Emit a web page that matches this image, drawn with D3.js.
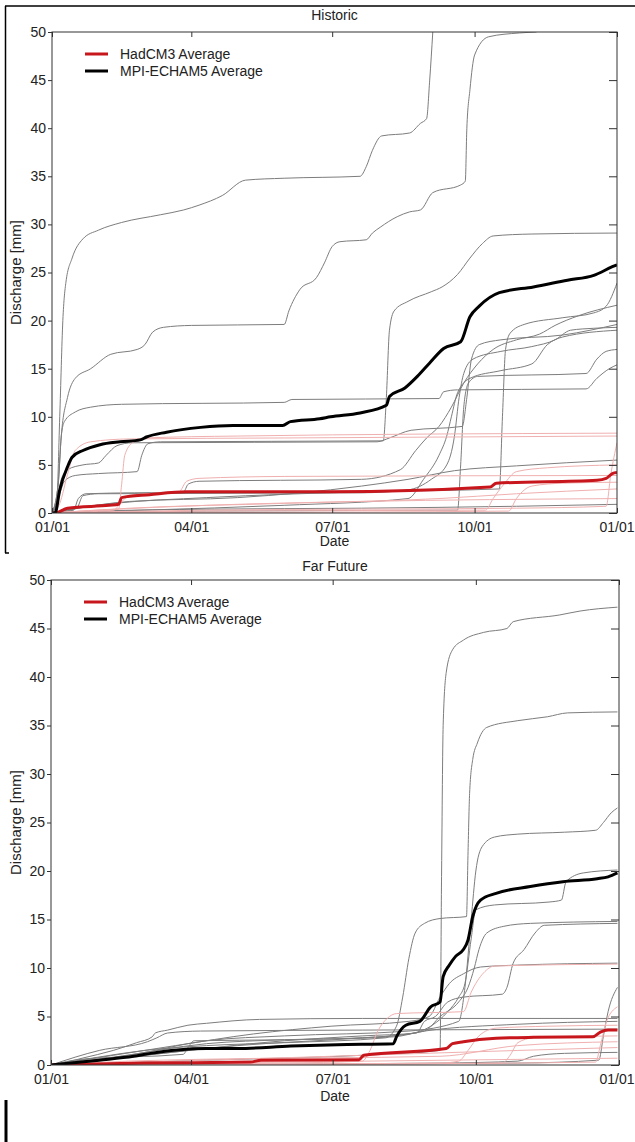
<!DOCTYPE html>
<html>
<head>
<meta charset="utf-8">
<script src="https://cdn.jsdelivr.net/npm/d3@7"></script>
<style>
  body { margin: 0; background: #fff; }
  svg { display: block; }
  text { font-family: "Liberation Sans", Arial, sans-serif; fill: #222; }
</style>
</head>
<body>
<svg id="chart" width="635" height="1142"></svg>
<script>
// ---- data: cumulative discharge [mm] as [day of year, value] ----
const panelTitles = ["Historic", "Far Future"];
const legendLabels = ["HadCM3 Average", "MPI-ECHAM5 Average"];
const yTicks = [0, 5, 10, 15, 20, 25, 30, 35, 40, 45, 50];

// Historic, MPI-ECHAM5 members (grey)
const histMpiMembers = [
  [[0,0],[3,1],[5,10],[7,20],[9,24],[13,26.5],[20,28.5],[30,29.4],[45,30.2],[70,31],[85,31.5],[95,32],[110,33],[125,34.6],[150,34.8],[199,35],[203,36],[207,37.7],[213,39.2],[231,39.5],[238,40.5],[242,41],[244,45],[246,50]],
  [[0,0],[4,3],[6,8],[10,12],[15,14],[25,15],[38,16.5],[55,17],[60,17.5],[65,18.8],[72,19.3],[90,19.5],[150,19.6],[153,21],[160,23.2],[171,24.5],[176,26],[181,27.7],[186,28.2],[203,28.4],[207,29.1],[212,29.7],[223,30.8],[231,31.3],[238,31.5],[246,33.3],[264,34.1],[267,34.5],[268,40],[270,44],[273,47.6],[282,49.5],[302,49.9],[313,50]],
  [[0,0],[5,2],[8,3.3],[15,3.9],[30,4.1],[55,4.3],[58,6],[62,7.2],[70,7.4],[214,7.5],[216,12],[218,19],[221,21],[230,22],[245,23],[252,23.5],[262,24.8],[270,26.5],[278,28],[285,28.8],[310,29],[365,29.1]],
  [[0,0],[4,3],[6,8],[8,9.5],[15,10.5],[25,11],[45,11.3],[150,11.5],[155,11.8],[250,11.9],[253,12.6],[262,12.8],[345,12.9],[352,14],[360,15],[365,15.4]],
  [[0,0],[15,0.5],[40,1],[100,1.6],[200,2.2],[289,2.5],[291,10],[293,17],[296,18.7],[305,19.6],[330,20.3],[350,20.8],[358,21.5],[365,23.9]],
  [[0,0],[100,0.2],[262,0.3],[264,5],[266,11],[269,13.5],[275,14.2],[345,14.5],[352,16],[358,16.8],[365,17]],
  [[0,0],[14,0.3],[17,1.5],[22,2],[85,2.2],[88,3],[95,3.3],[200,3.5],[225,4.5],[235,6.5],[242,7.8],[250,9],[258,11],[266,13.5],[275,15.5],[285,17],[300,18],[315,18.6],[325,19.5],[340,20.5],[365,21.6]],
  [[0,0],[16,0.5],[20,1.8],[30,2],[200,2.1],[230,2.4],[245,3.5],[255,5],[260,8],[263,12],[266,14.5],[272,16],[290,16.8],[310,17.3],[325,18],[335,19],[350,19.2],[365,19.3]],
  [[0,0],[60,0.3],[150,0.8],[230,1.5],[240,3.5],[250,6],[255,8],[258,10],[262,12.5],[270,14],[290,14.8],[310,15.5],[320,17.5],[330,18.3],[365,19]],
  [[0,0],[10,0.3],[50,1.2],[120,1.6],[200,2.8],[230,3.5],[260,4.4],[300,4.9],[365,5.5]],
  [[0,0],[3,1],[6,3.5],[10,4.5],[20,5],[30,5.2],[35,6],[42,7],[52,7.3],[210,7.4],[218,7.8],[232,8.6],[265,9],[268,12],[271,16],[276,17.5],[290,18],[330,18.5],[365,19.6]],
  [[0,0],[30,0.2],[100,0.4],[200,0.5],[300,0.7],[365,0.9]]
];
// Historic, HadCM3 members (pink)
const histHadMembers = [
  [[0,0],[20,0.2],[43,0.4],[45,3],[47,6],[52,7.3],[60,7.8],[120,8],[365,8.3]],
  [[0,0],[5,1],[10,4],[15,6.5],[25,7.4],[50,7.7],[150,7.8],[365,8.0]],
  [[0,0],[100,0.3],[300,0.5],[358,0.7],[361,4],[365,7.3]],
  [[0,0],[40,0.3],[44,1],[50,1.8],[60,2],[82,2.2],[87,3.3],[95,3.6],[150,3.8],[365,3.9]],
  [[0,0],[100,0.2],[280,0.3],[285,1.5],[292,3],[300,4.3],[320,4.7],[365,5.0]],
  [[0,0],[50,0.5],[150,1],[250,1.5],[300,2],[365,2.5]],
  [[0,0],[200,0.1],[295,0.2],[300,1.5],[310,2.8],[330,3.1],[365,3.2]],
  [[0,0],[30,0.3],[100,0.8],[200,1.2],[365,1.5]]
];
const histMpiAvg = [[0,0],[2,0],[5,2.4],[10,4.8],[13,5.8],[20,6.5],[31,7.1],[44,7.4],[57,7.6],[61,7.9],[74,8.4],[96,8.9],[117,9.1],[149,9.1],[154,9.5],[173,9.8],[180,10],[199,10.4],[216,11.2],[218,12.1],[228,13],[236,14.2],[244,15.6],[253,17.1],[264,17.8],[270,20.4],[276,21.5],[289,22.9],[311,23.5],[333,24.2],[350,24.7],[362,25.6],[365,25.8]];
const histHadAvg = [[0,0],[2,0],[10,0.5],[37,0.8],[43,0.9],[45,1.6],[63,1.9],[87,2.2],[180,2.2],[283,2.7],[287,3.1],[352,3.4],[358,3.6],[362,4.1],[365,4.2]];

// Far Future, MPI-ECHAM5 members (grey)
const futMpiMembers = [
  [[0,0],[100,0.5],[200,1],[250,1.5],[251,20],[252,35],[254,40.5],[258,42.8],[265,43.8],[278,44.6],[293,45],[297,45.7],[327,46.4],[340,46.8],[364,47.2]],
  [[0,0],[30,0.8],[60,1.5],[100,2],[150,2.3],[215,2.8],[222,4],[226,7],[230,11],[234,13.6],[240,14.6],[250,15.1],[267,15.3],[268,22],[269,28],[271,31.5],[274,33.2],[280,34.8],[300,35.5],[319,35.9],[332,36.3],[364,36.4]],
  [[0,0],[50,1],[100,2.5],[150,3],[230,3.5],[262,4.5],[266,8],[270,15],[273,20],[277,22.5],[285,23.5],[300,23.8],[330,24],[350,24.2],[355,25],[360,26],[364,26.5]],
  [[0,0],[60,1],[120,2],[200,2.8],[230,3.2],[244,4],[255,5.5],[262,7],[266,8.4],[270,13],[273,16],[285,16.5],[320,16.8],[328,17],[331,18.9],[342,19.8],[364,20.1]],
  [[0,0],[40,0.8],[100,2.2],[150,2.6],[200,2.8],[240,3.5],[250,5],[262,6.5],[268,8],[272,10],[275,11.9],[280,13.6],[291,14.3],[308,14.6],[364,14.8]],
  [[0,0],[60,1],[150,2.5],[200,3],[235,3.3],[240,4.5],[247,5],[255,6.5],[265,7],[290,7.3],[293,8],[297,10.5],[304,11.9],[311,13.6],[317,14.4],[364,14.6]],
  [[0,0],[40,1],[80,2],[130,3.2],[180,4],[230,4.5],[243,5],[250,7],[256,8.4],[265,9.4],[276,10.1],[300,10.3],[364,10.5]],
  [[0,0],[10,0.3],[20,0.7],[40,1.5],[55,2.3],[65,2.9],[67,3.3],[75,3.6],[88,4.1],[100,4.3],[134,4.7],[200,4.8],[364,4.8]],
  [[0,0],[31,1.5],[62,2.4],[68,2.8],[75,3.3],[96,3.5],[200,3.6],[364,3.7]],
  [[0,0],[20,0.6],[85,1.1],[88,1.8],[92,2.5],[150,2.6],[220,2.9],[240,3.5],[300,4.2],[364,4.5]],
  [[0,0],[250,0.2],[300,0.4],[310,0.9],[330,1.2],[364,1.3]],
  [[0,0],[300,0.2],[352,0.5],[355,3],[358,5.5],[364,8]]
];
// Far Future, HadCM3 members (pink)
const futHadMembers = [
  [[0,0],[150,0.2],[200,0.4],[205,1.5],[210,3.5],[216,4.8],[222,5.3],[265,5.5],[270,7.5],[278,9.5],[285,10.2],[364,10.4]],
  [[0,0],[200,0.1],[350,0.3],[353,2],[357,4.5],[364,6]],
  [[0,0],[250,0.2],[262,0.4],[268,1.5],[275,3],[286,3.8],[320,4.0],[364,4.1]],
  [[0,0],[290,0.2],[295,1],[300,2.3],[310,2.8],[364,3.0]],
  [[0,0],[100,0.5],[200,1.0],[300,1.5],[364,1.8]],
  [[0,0],[150,0.3],[364,0.7]],
  [[0,0],[50,0.4],[100,0.6],[250,0.9],[300,2],[364,2.4]]
];
const futMpiAvg = [[0,0],[31,0.5],[53,0.9],[64,1.2],[81,1.55],[100,1.7],[120,1.7],[154,1.95],[184,2.1],[220,2.2],[222,2.9],[228,4.1],[237,4.5],[244,6],[250,6.5],[252,9.1],[256,10.3],[260,11.2],[265,11.9],[268,12.9],[271,15.3],[276,17],[286,17.7],[308,18.4],[329,18.9],[351,19.2],[358,19.4],[364,19.8]];
const futHadAvg = [[0,0],[60,0.2],[128,0.3],[135,0.5],[198,0.55],[201,1],[254,1.7],[258,2.2],[265,2.4],[286,2.75],[310,2.85],[348,2.9],[353,3.4],[358,3.6],[364,3.6]];

// ---- layout ----
const svg = d3.select("#chart");
const start = new Date(2001, 0, 1);
const end = new Date(2002, 0, 1);
const toDate = d => d3.timeDay.offset(start, d);
const fmt = d3.timeFormat("%m/%d");

const colors = { mpi: "#7d7d7d", had: "#f0b0b0", mpiAvg: "#000", hadAvg: "#c8161d", axis: "#333" };
const fs = 14;

const panels = [
  { title: panelTitles[0], left: 52, right: 617, top: 32, bottom: 513, titleY: 20, dateY: 546,
    mpi: histMpiMembers, had: histHadMembers, mpiAvg: histMpiAvg, hadAvg: histHadAvg },
  { title: panelTitles[1], left: 51, right: 619, top: 580, bottom: 1065, titleY: 571, dateY: 1101,
    mpi: futMpiMembers, had: futHadMembers, mpiAvg: futMpiAvg, hadAvg: futHadAvg }
];

// outer frame bits
svg.append("line").attr("x1", 5).attr("x2", 635).attr("y1", 6).attr("y2", 6).attr("stroke", "#000").attr("stroke-width", 1.5);
svg.append("line").attr("x1", 5.5).attr("x2", 5.5).attr("y1", 6).attr("y2", 553).attr("stroke", "#000").attr("stroke-width", 1.5);
svg.append("line").attr("x1", 5).attr("x2", 9).attr("y1", 553).attr("y2", 553).attr("stroke", "#000").attr("stroke-width", 1.5);
svg.append("line").attr("x1", 6).attr("x2", 6).attr("y1", 1100).attr("y2", 1142).attr("stroke", "#000").attr("stroke-width", 3);

panels.forEach((p, i) => {
  const x = d3.scaleTime().domain([start, end]).range([p.left, p.right]);
  const y = d3.scaleLinear().domain([0, 50]).range([p.bottom, p.top]);
  const g = svg.append("g");

  const clipId = "clip" + i;
  svg.append("clipPath").attr("id", clipId)
    .append("rect").attr("x", p.left).attr("y", p.top).attr("width", p.right - p.left).attr("height", p.bottom - p.top);

  const line = d3.line()
    .x(d => x(toDate(d[0])))
    .y(d => y(d[1]))
    .curve(d3.curveMonotoneX);

  const plot = g.append("g").attr("clip-path", `url(#${clipId})`);

  plot.selectAll("path.mpi").data(p.mpi).enter().append("path")
    .attr("class", "mpi").attr("d", line)
    .attr("fill", "none").attr("stroke", colors.mpi).attr("stroke-width", 1);
  plot.selectAll("path.had").data(p.had).enter().append("path")
    .attr("class", "had").attr("d", line)
    .attr("fill", "none").attr("stroke", colors.had).attr("stroke-width", 1);
  plot.append("path").datum(p.hadAvg).attr("d", line)
    .attr("fill", "none").attr("stroke", colors.hadAvg).attr("stroke-width", 3);
  plot.append("path").datum(p.mpiAvg).attr("d", line)
    .attr("fill", "none").attr("stroke", colors.mpiAvg).attr("stroke-width", 3);

  // axes
  const xTicks = x.ticks(d3.timeMonth.every(3));
  g.append("g").attr("transform", `translate(0,${p.bottom})`)
    .call(d3.axisBottom(x).tickValues(xTicks).tickFormat(fmt).tickSize(-5).tickPadding(9))
    .call(a => a.select(".domain").remove())
    // keep the last "01/01" inside the page
    .call(a => a.selectAll(".tick:last-of-type text").attr("text-anchor", "end").attr("dx", 634 - p.right));
  g.append("g").attr("transform", `translate(0,${p.top})`)
    .call(d3.axisTop(x).tickValues(xTicks).tickFormat("").tickSize(-5))
    .call(a => a.select(".domain").remove());
  g.append("g").attr("transform", `translate(${p.left},0)`)
    .call(d3.axisLeft(y).tickValues(yTicks).tickSize(4).tickPadding(2))
    .call(a => a.select(".domain").remove());
  g.append("g").attr("transform", `translate(${p.right},0)`)
    .call(d3.axisRight(y).tickValues(yTicks).tickFormat("").tickSize(-8))
    .call(a => a.select(".domain").remove());
  g.selectAll(".tick line").attr("stroke", colors.axis);
  g.selectAll(".tick text").attr("font-size", fs).attr("fill", "#222")
    .style("font-family", '"Liberation Sans", Arial, sans-serif');

  g.append("rect").attr("x", p.left).attr("y", p.top)
    .attr("width", p.right - p.left).attr("height", p.bottom - p.top)
    .attr("fill", "none").attr("stroke", colors.axis).attr("stroke-width", 1);

  // titles and labels
  g.append("text").attr("x", (p.left + p.right) / 2).attr("y", p.titleY)
    .attr("text-anchor", "middle").attr("font-size", fs).text(p.title);
  g.append("text").attr("x", (p.left + p.right) / 2).attr("y", p.dateY)
    .attr("text-anchor", "middle").attr("font-size", fs).text("Date");
  g.append("text")
    .attr("transform", `translate(21,${(p.top + p.bottom) / 2}) rotate(-90)`)
    .attr("text-anchor", "middle").attr("font-size", 15).text("Discharge [mm]");

  // legend
  const leg = g.append("g").attr("transform", `translate(${p.left + 33},${p.top + 22})`);
  [colors.hadAvg, colors.mpiAvg].forEach((c, k) => {
    leg.append("line").attr("x1", 0).attr("x2", 23).attr("y1", k * 17).attr("y2", k * 17)
      .attr("stroke", c).attr("stroke-width", 3);
    leg.append("text").attr("x", 35).attr("y", k * 17).attr("dy", "0.35em")
      .attr("font-size", fs).text(legendLabels[k]);
  });
});
</script>
</body>
</html>
